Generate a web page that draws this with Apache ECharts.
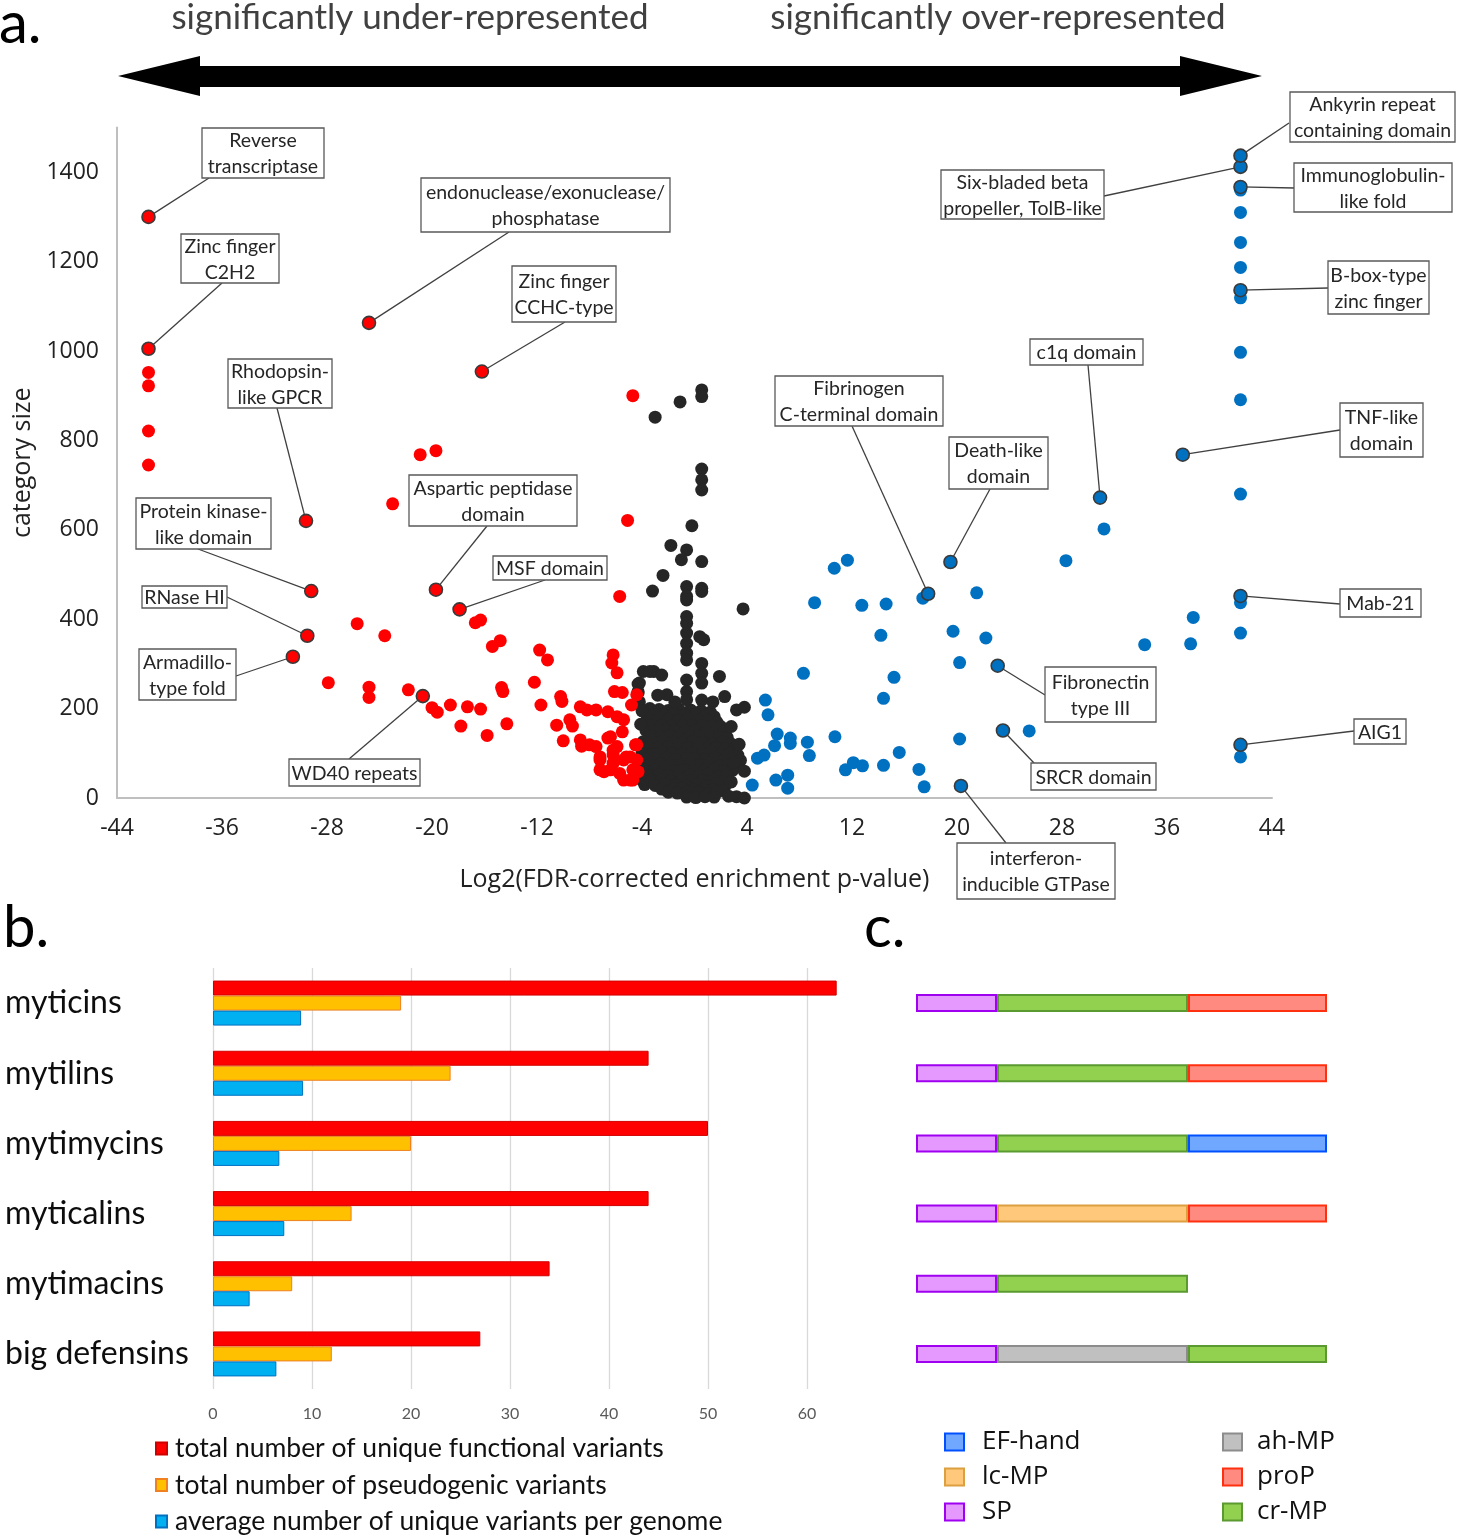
<!DOCTYPE html>
<html><head><meta charset="utf-8">
<script src="https://cdn.jsdelivr.net/npm/echarts@6/dist/echarts.min.js"></script>
<style>html,body{margin:0;padding:0;background:#fff}#c{width:1459px;height:1535px}</style>
</head><body><div id="c"></div>
<script>
// ---------------- Panel a data ----------------
const redPoints = [
[-41.6,952],[-41.6,922],[-41.6,821],[-41.6,745],
[-20.9,768],[-19.7,777],[-23.0,658],[-25.7,390],[-23.6,363],[-16.7,392],[-16.3,398],[-15.4,339],[-14.8,352],
[-27.9,258],[-24.8,248],[-24.8,225],[-21.8,242],[-20.0,202],[-19.6,192],[-18.6,208],[-17.3,204],[-16.3,199],
[-17.8,161],[-15.8,140],[-14.3,166],[-14.7,247],[-14.6,238],
[-4.7,900],[-5.1,621],[-5.7,451],[-11.8,331],[-11.2,309],[-6.2,320],[-6.3,302],[-5.9,280],[-12.2,259],
[-11.7,208],[-10.2,227],[-10.1,216],[-8.7,204],[-7.5,197],[-6.6,193],[-5.4,175],[-9.5,175],[-9.3,161],
[-10.5,163],[-10.0,128],[-8.6,116],[-7.5,115],[-6.6,134],[-6.2,107],[-5.5,148],[-4.5,119],[-6.1,238],
[-5.5,236],[-4.4,231],[-4.8,208],[-7.2,85],[-6.2,78],[-5.2,92],[-4.7,63],[-6.9,59],[-5.7,55],[-4.9,40],
[-8.2,197],[-5.9,182],[-8.7,130],[-8.0,119],[-6.4,137],[-5.9,115],[-4.4,119],[-7.2,92],[-6.2,96],
[-5.4,85],[-4.9,92],[-4.4,85],[-7.2,63],[-6.4,63],[-4.3,59],[-5.4,40],[-4.7,40]
];
const blackPoints = [
[-3.0,852],[-1.1,886],[0.55,913],[0.55,898],[0.55,736],[0.55,712],[0.55,689],[-0.2,609],[-1.8,565],
[-0.6,555],[-1.0,533],[0.55,529],[-2.4,498],[-3.2,463],[-0.6,473],[-0.6,451],[-0.6,443],[0.55,469],
[0.55,462],[3.7,423],[-0.6,406],[-0.6,391],[-0.6,369],[-0.6,346],[-0.6,324],[-0.6,309],[0.4,361],
[0.7,354],[0.55,301],[0.55,279],[0.55,257],[0.55,219],[-0.6,264],[-0.6,238],[-3.9,283],[-3.1,283],
[-2.5,275],[-4.2,257],[-4.3,238],[1.9,272],[2.3,227],[3.2,197],[3.8,203],[-2.1,231],[2.3,25],[3.2,3],[3.8,0],
[-3.4,200],[-2.7,198],[-2.0,196],[-1.2,199],[-0.3,197],[0.5,195],[1.2,192],
[-3.0,187],[-2.35,186],[-1.6,188],[-0.8,186],[0.1,187],[0.85,185],[1.5,182],
[-3.6,176],[-2.8,174],[-2.0,176],[-1.3,173],[-0.5,177],[0.3,174],[1.0,172],[1.7,170],
[-3.25,162],[-2.5,163],[-1.75,161],[-0.9,162],[-0.2,163],[0.6,161],[1.3,160],[2.0,160],
[-3.7,151],[-3.0,149],[-2.2,152],[-1.5,150],[-0.7,148],[0.1,151],[0.9,149],[1.6,147],[2.3,150],
[-3.4,138],[-2.6,137],[-1.9,139],[-1.2,136],[-0.4,137],[0.4,138],[1.2,135],[1.9,136],[2.5,135],
[-3.9,126],[-3.1,124],[-2.4,127],[-1.6,125],[-0.9,123],[-0.1,126],[0.7,124],[1.4,122],[2.1,125],[2.8,121],
[-3.5,113],[-2.8,112],[-2.0,114],[-1.3,111],[-0.5,113],[0.3,112],[1.0,110],[1.7,113],[2.4,110],[3.0,108],
[-4.0,101],[-3.2,99],[-2.5,102],[-1.7,100],[-1.0,98],[-0.2,101],[0.6,99],[1.3,103],[2.0,97],[2.7,100],[3.3,96],
[-3.7,88],[-2.9,87],[-2.1,89],[-1.4,86],[-0.6,88],[0.1,87],[0.8,86],[1.6,89],[2.3,85],[2.9,87],[3.5,84],
[-4.1,76],[-3.4,74],[-2.6,77],[-1.9,75],[-1.1,73],[-0.3,76],[0.4,74],[1.2,78],[1.9,72],[2.6,75],[3.2,71],
[-3.8,63],[-3.0,62],[-2.3,64],[-1.5,61],[-0.7,63],[0.0,62],[0.7,61],[1.5,64],[2.2,60],[2.9,62],
[-4.2,51],[-3.4,49],[-2.7,52],[-2.0,50],[-1.2,48],[-0.4,51],[0.3,49],[1.0,53],[1.8,47],[2.5,50],
[-4.0,40],[-3.3,39],[-2.5,41],[-1.8,38],[-1.0,40],[-0.2,39],[0.6,38],[1.4,41],[2.1,37],[2.8,36],
[-3.8,30],[-3.0,28],[-2.2,31],[-1.4,29],[-0.6,27],[0.2,30],[1.0,28],[1.7,32],
[-2.5,20],[-1.6,20],[-0.9,21],[-0.1,19],[0.7,20],[1.4,18],[2.1,17],
[-2.0,13],[-1.3,11],[-0.5,14],[0.3,12],[1.0,10],[1.7,13],
[-0.6,2],[0.1,1],[0.8,3],[1.5,2],[2.6,4],
[-4.3,255],[-4.3,235],[-4.2,215],[-4.0,195],[-4.1,165],[-3.4,283],[-2.8,230],[-1.5,215],[-0.6,220],
[1.4,215],[2.8,160],[3.4,120],[3.0,80],[3.8,60]
];
const bluePoints = [
[41.6,1360],[41.6,1310],[41.6,1243],[41.6,1187],[41.6,1119],[41.6,997],[41.6,891],[41.6,680],[41.6,437],
[41.6,369],[41.6,92],
[31.2,602],[28.3,531],[10.65,514],[11.65,532],[9.15,437],[12.75,431],[14.6,434],[17.4,447],[21.5,459],
[14.2,364],[19.7,373],[22.2,358],[38.0,404],[37.8,345],[34.3,343],[20.2,303],[8.3,279],[15.2,270],
[14.4,223],[5.4,219],[5.6,186],[25.5,150],[20.2,132],[10.7,137],[6.3,143],[7.3,134],[7.3,122],[6.1,117],
[8.6,125],[8.75,95],[4.8,89],[5.3,96],[11.5,63],[12.1,79],[12.8,72],[14.4,73],[15.6,102],[17.1,64],
[17.5,25],[4.4,29],[6.2,40],[7.1,51],[7.1,22]
];
// annotated points: [label, x, y, group]
const annotations = [
['Reverse\ntranscriptase',-41.6,1300,'red'],
['Zinc finger\nC2H2',-41.6,1005,'red'],
['endonuclease/exonuclease/\nphosphatase',-24.8,1063,'red'],
['Zinc finger\nCCHC-type',-16.2,954,'red'],
['Rhodopsin-\nlike GPCR',-29.6,620,'red'],
['Aspartic peptidase\ndomain',-19.7,466,'red'],
['Protein kinase-\nlike domain',-29.2,463,'red'],
['MSF domain',-17.9,422,'red'],
['RNase HI',-29.5,363,'red'],
['Armadillo-\ntype fold',-30.6,316,'red'],
['WD40 repeats',-20.7,228,'red'],
['Six-bladed beta\npropeller, TolB-like',41.6,1412,'blue'],
['Ankyrin repeat\ncontaining domain',41.6,1437,'blue'],
['Immunoglobulin-\nlike fold',41.6,1367,'blue'],
['B-box-type\nzinc finger',41.6,1136,'blue'],
['c1q domain',30.9,672,'blue'],
['Fibrinogen\nC-terminal domain',17.8,457,'blue'],
['Death-like\ndomain',19.5,528,'blue'],
['TNF-like\ndomain',37.2,768,'blue'],
['Mab-21',41.6,452,'blue'],
['Fibronectin\ntype III',23.1,296,'blue'],
['AIG1',41.6,119,'blue'],
['SRCR domain',23.5,151,'blue'],
['interferon-\ninducible GTPase',20.3,27,'blue']
];
// ---------------- Panel b data ----------------
const categories = ['myticins','mytilins','mytimycins','myticalins','mytimacins','big defensins'];
const functionalVariants = [63,44,50,44,34,27];
const pseudogenicVariants = [19,24,20,14,8,12];
const avgVariantsPerGenome = [8.9,9.1,6.7,7.2,3.7,6.4];
// ---------------- Panel c data (schematic segment lengths) ----------------
const domSP    = [81,81,81,81,81,81];
const domAhMP  = ['-','-','-','-','-',191];
const domLcMP  = ['-','-','-',191,'-','-'];
const domCrMP  = [191,191,191,'-',191,139];
const domProP  = [139,139,'-',139,'-','-'];
const domEF    = ['-','-',139,'-','-','-'];

// ---------------- layout (pixels) for annotation boxes ----------------
const annotBoxes = [
{x:202,y:128,w:122,h:50,ax:209,ay:178},
{x:181,y:234,w:98,h:49,ax:222,ay:283},
{x:421,y:178,w:249,h:54,ax:509,ay:232},
{x:512,y:266,w:104,h:56,ax:565,ay:322},
{x:228,y:359,w:104,h:49,ax:277,ay:408},
{x:409,y:475,w:168,h:51,ax:487,ay:526},
{x:136,y:498,w:135,h:51,ax:198,ay:549},
{x:493,y:556,w:114,h:24,ax:545,ay:580},
{x:142,y:586,w:85,h:22,ax:227,ay:597},
{x:139,y:649,w:97,h:51,ax:236,ay:676},
{x:289,y:759,w:131,h:27,ax:349,ay:759},
{x:941,y:170,w:163,h:49,ax:1104,ay:196},
{x:1290,y:92,w:165,h:50,ax:1289,ay:123},
{x:1294,y:163,w:158,h:49,ax:1294,ay:188},
{x:1328,y:261,w:101,h:53,ax:1328,ay:288},
{x:1030,y:339,w:113,h:26,ax:1088,ay:365},
{x:775,y:376,w:168,h:50,ax:852,ay:426},
{x:949,y:437,w:99,h:52,ax:990,ay:489},
{x:1340,y:403,w:83,h:54,ax:1340,ay:430},
{x:1340,y:589,w:81,h:28,ax:1340,ay:604},
{x:1045,y:667,w:111,h:55,ax:1045,ay:695},
{x:1354,y:719,w:52,h:25,ax:1354,ay:731},
{x:1031,y:763,w:125,h:27,ax:1034,ay:763},
{x:957,y:843,w:158,h:56,ax:1006,ay:843}
];

const RED='#ff0000', BLACK='#262626', BLUE='#0070c0';
const annotStyle = c => ({color:c, borderColor:'#3a3a3a', borderWidth:1.6, opacity:1});
const redData = redPoints.concat(annotations.filter(a=>a[3]==='red').map(a=>({value:[a[1],a[2]],itemStyle:annotStyle(RED)})));
const blueData = bluePoints.concat(annotations.filter(a=>a[3]==='blue').map(a=>({value:[a[1],a[2]],itemStyle:annotStyle(BLUE)})));

const chart = echarts.init(document.getElementById('c'), null, {renderer:'canvas'});
const option = {
  backgroundColor:'#fff',
  animation:false,
  grid:[
    {left:117, top:127.5, width:1155, height:670.5},
    {left:213, top:968, width:594, height:421},
    {left:916, top:968, width:411, height:421}
  ],
  xAxis:[
    {gridIndex:0, type:'value', min:-44, max:44, interval:8,
     axisLine:{show:true, onZero:false, lineStyle:{color:'#bfbfbf', width:2}}, axisTick:{show:false}, splitLine:{show:false},
     axisLabel:{fontFamily:'Open Sans', fontSize:23, color:'#222', margin:19, formatter:v=>String(v)},
     name:'Log2(FDR-corrected enrichment p-value)', nameLocation:'middle', nameGap:69,
     nameTextStyle:{fontFamily:'Open Sans', fontSize:25, color:'#222'}},
    {gridIndex:1, type:'value', min:0, max:60, interval:10,
     axisLine:{show:false}, axisTick:{show:false},
     splitLine:{show:true, lineStyle:{color:'#d9d9d9', width:1.3}},
     axisLabel:{fontFamily:'Lato', fontSize:16, color:'#595959', margin:17}},
    {gridIndex:2, type:'value', min:0, max:411, show:false}
  ],
  yAxis:[
    {gridIndex:0, type:'value', min:0, max:1500, interval:200,
     axisLine:{show:true, onZero:false, lineStyle:{color:'#bfbfbf', width:2}}, axisTick:{show:false}, splitLine:{show:false},
     axisLabel:{fontFamily:'Open Sans', fontSize:23, color:'#222', margin:18, showMaxLabel:false, formatter:v=>String(v)},
     name:'category size', nameLocation:'middle', nameGap:66, nameRotate:90,
     nameTextStyle:{fontFamily:'Open Sans', fontSize:25, color:'#222'}},
    {gridIndex:1, type:'category', data:categories, inverse:true,
     axisLine:{show:false}, axisTick:{show:false},
     axisLabel:{fontFamily:'Lato', fontSize:32, color:'#0d0d0d', align:'left', margin:208}},
    {gridIndex:2, type:'category', data:categories, inverse:true, show:false}
  ],
  legend:[
    {left:155, top:1435, orient:'vertical', padding:0, itemWidth:11, itemHeight:12, itemGap:9.5, icon:'rect',
     textStyle:{fontFamily:'Lato', fontSize:26.5, color:'#111', lineHeight:26, padding:[0,0,0,3]},
     data:['total number of unique functional variants','total number of pseudogenic variants','average number of unique variants per genome']},
    {left:944, top:1429, orient:'vertical', padding:0, itemWidth:19, itemHeight:17, itemGap:9, icon:'rect',
     textStyle:{fontFamily:'Open Sans', fontSize:26, color:'#111', lineHeight:26, padding:[0,0,0,13]},
     data:['EF-hand','lc-MP','SP']},
    {left:1222, top:1429, orient:'vertical', padding:0, itemWidth:19, itemHeight:17, itemGap:9, icon:'rect',
     textStyle:{fontFamily:'Open Sans', fontSize:26, color:'#111', lineHeight:26, padding:[0,0,0,10]},
     data:['ah-MP','proP','cr-MP']}
  ],
  series:[
    {type:'scatter', name:'under', xAxisIndex:0, yAxisIndex:0, symbolSize:13, data:redData, itemStyle:{color:RED, opacity:1}, z:3},
    {type:'scatter', name:'neutral', xAxisIndex:0, yAxisIndex:0, symbolSize:13, data:blackPoints, itemStyle:{color:BLACK, opacity:1}, z:2},
    {type:'scatter', name:'over', xAxisIndex:0, yAxisIndex:0, symbolSize:13, data:blueData, itemStyle:{color:BLUE, opacity:1}, z:3},
    {type:'bar', name:'total number of unique functional variants', xAxisIndex:1, yAxisIndex:1, data:functionalVariants,
     barWidth:15, barGap:'0%', clip:false, itemStyle:{color:'#ff0000', borderColor:'#d00000', borderWidth:1}},
    {type:'bar', name:'total number of pseudogenic variants', xAxisIndex:1, yAxisIndex:1, data:pseudogenicVariants,
     barWidth:15, barGap:'0%', clip:false, itemStyle:{color:'#ffc000', borderColor:'#f08020', borderWidth:1}},
    {type:'bar', name:'average number of unique variants per genome', xAxisIndex:1, yAxisIndex:1, data:avgVariantsPerGenome,
     barWidth:15, barGap:'0%', clip:false, itemStyle:{color:'#00b0f0', borderColor:'#0070c0', borderWidth:1}},
    {type:'bar', name:'SP', stack:'d', xAxisIndex:2, yAxisIndex:2, data:domSP, barWidth:18,
     itemStyle:{color:'#e599ff', borderColor:'#a000f0', borderWidth:2}},
    {type:'bar', name:'ah-MP', stack:'d', xAxisIndex:2, yAxisIndex:2, data:domAhMP, barWidth:18,
     itemStyle:{color:'#c0c0c0', borderColor:'#8c8c8c', borderWidth:2}},
    {type:'bar', name:'lc-MP', stack:'d', xAxisIndex:2, yAxisIndex:2, data:domLcMP, barWidth:18,
     itemStyle:{color:'#ffc87a', borderColor:'#dca040', borderWidth:2}},
    {type:'bar', name:'cr-MP', stack:'d', xAxisIndex:2, yAxisIndex:2, data:domCrMP, barWidth:18,
     itemStyle:{color:'#92d050', borderColor:'#5a9a30', borderWidth:2}},
    {type:'bar', name:'proP', stack:'d', xAxisIndex:2, yAxisIndex:2, data:domProP, barWidth:18,
     itemStyle:{color:'#ff8b80', borderColor:'#ff3010', borderWidth:2}},
    {type:'bar', name:'EF-hand', stack:'d', xAxisIndex:2, yAxisIndex:2, data:domEF, barWidth:18,
     itemStyle:{color:'#70a8ff', borderColor:'#0050ff', borderWidth:2}}
  ]
};
chart.setOption(option);

// ---------------- decorations & annotations ----------------
const els = [
  {type:'text', z:20, x:-1, y:-5, style:{text:'a.', fontFamily:'Lato', fontSize:58, fill:'#000'}},
  {type:'text', z:20, x:3, y:899, style:{text:'b.', fontFamily:'Lato', fontSize:58, fill:'#000'}},
  {type:'text', z:20, x:864, y:899, style:{text:'c.', fontFamily:'Lato', fontSize:58, fill:'#000'}},
  {type:'text', z:20, x:410, y:18, style:{text:'significantly under-represented', fontFamily:'Lato', fontSize:35, fill:'#404040', align:'center', verticalAlign:'middle'}},
  {type:'text', z:20, x:998, y:18, style:{text:'significantly over-represented', fontFamily:'Lato', fontSize:35, fill:'#404040', align:'center', verticalAlign:'middle'}},
  {type:'polygon', z:20, shape:{points:[[118,76],[200,56],[200,66],[1180,66],[1180,56],[1262,76],[1180,96],[1180,87],[200,87],[200,96]]}, style:{fill:'#000'}}
];
annotations.forEach((a,i)=>{
  const p = chart.convertToPixel({gridIndex:0},[a[1],a[2]]);
  const L = annotBoxes[i];
  els.push({type:'line', z:1, shape:{x1:p[0],y1:p[1],x2:L.ax,y2:L.ay}, style:{stroke:'#404040', lineWidth:1.3}});
  els.push({type:'rect', z:10, shape:{x:L.x,y:L.y,width:L.w,height:L.h}, style:{fill:'#fff', stroke:'#595959', lineWidth:1.3}});
  els.push({type:'text', z:11, x:L.x+L.w/2, y:L.y+L.h/2+1, style:{text:a[0], align:'center', verticalAlign:'middle', fontFamily:'Lato', fontSize:19.5, lineHeight:26, fill:'#262626'}});
});
chart.setOption({graphic:{elements:els}});
</script></body></html>
